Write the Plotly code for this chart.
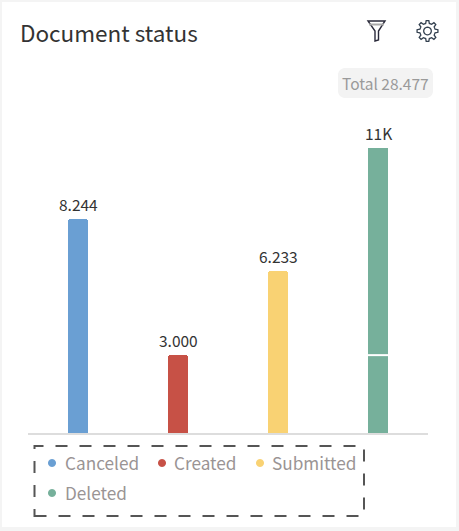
import math
import plotly.graph_objects as go

categories = ["Canceled", "Created", "Submitted", "Deleted"]
lower_values = [8244, 3000, 6233, 3000]
upper_values = [0, 0, 0, 8000]
value_labels = ["8.244", "3.000", "6.233", "11K"]
colors = ["#6a9fd3", "#c75146", "#f9d273", "#76b09b"]
title_text = "Document status"
total_text = "Total 28.477"

W, H = 459, 531
L, R, T, B = 28, 428, 100, 433
FONT = "Noto Sans CJK JP"

def fx(x):
    return (x - L) / (R - L)

def fy(y):
    return (B - y) / (B - T)

def path(points, close=True):
    s = "M" + " L".join(f"{fx(x):.5f},{fy(y):.5f}" for x, y in points)
    return s + (" Z" if close else "")

def rounded(x0, y0, x1, y1, r):
    pts = []
    for cx, cy, a0 in [(x1 - r, y0 + r, -90), (x1 - r, y1 - r, 0), (x0 + r, y1 - r, 90), (x0 + r, y0 + r, 180)]:
        for i in range(7):
            a = math.radians(a0 + 15 * i)
            pts.append((cx + r * math.cos(a), cy + r * math.sin(a)))
    return path(pts)

def gear(cx, cy, n=8, ro=10.5, ri=7.8):
    pts = []
    step = 360 / n
    for k in range(n):
        for off, rad in [(-0.30, ri), (-0.16, ro), (0.16, ro), (0.30, ri)]:
            a = math.radians((k + off) * step - 90)
            pts.append((cx + rad * math.cos(a), cy + rad * math.sin(a)))
    return path(pts)

def circle(cx, cy, r):
    return path([(cx + r * math.cos(math.radians(a)), cy + r * math.sin(math.radians(a))) for a in range(0, 360, 15)])

fig = go.Figure()
fig.add_bar(x=categories, y=lower_values, marker=dict(color=colors, line=dict(width=0)), showlegend=False, hoverinfo="skip")
fig.add_bar(x=categories, y=upper_values, marker=dict(color=colors, line=dict(width=0)), showlegend=False, hoverinfo="skip")
totals = [a + b for a, b in zip(lower_values, upper_values)]

shapes = [
    dict(type="rect", xref="paper", yref="paper", x0=fx(2), x1=fx(456), y0=fy(527), y1=fy(2),
         fillcolor="white", line=dict(width=0), layer="below"),
    dict(type="path", xref="paper", yref="paper", path=rounded(338, 68, 433, 98, 7),
         fillcolor="#f3f3f3", line=dict(width=0), layer="below"),
    dict(type="rect", xref="paper", yref="paper", x0=fx(34.5), x1=fx(364), y0=fy(516), y1=fy(446),
         fillcolor="rgba(0,0,0,0)", line=dict(color="#555555", width=2, dash="12px,12px")),
    dict(type="line", xref="x", yref="y", x0=2.9, x1=3.1, y0=lower_values[3], y1=lower_values[3],
         line=dict(color="white", width=2)),
    dict(type="path", xref="paper", yref="paper", path=gear(427.5, 31),
         fillcolor="rgba(0,0,0,0)", line=dict(color="#33404f", width=1.3)),
    dict(type="path", xref="paper", yref="paper", path=circle(427.5, 31, 3.8),
         fillcolor="rgba(0,0,0,0)", line=dict(color="#33404f", width=1.3)),
    dict(type="path", xref="paper", yref="paper",
         path=path([(368, 21), (385, 21), (378.5, 31), (378.5, 40), (375, 41), (375, 31)]),
         fillcolor="rgba(0,0,0,0)", line=dict(color="#2a2a3a", width=1.4)),
    dict(type="line", xref="paper", yref="paper", x0=fx(369), x1=fx(384), y0=fy(24.5), y1=fy(24.5),
         line=dict(color="#aaaaaa", width=2)),
]

annotations = [
    dict(xref="paper", yref="paper", x=fx(385.5), y=fy(83), xanchor="center", yanchor="middle", text=total_text,
         showarrow=False, font=dict(family=FONT, size=15.5, color="#9a9a9a")),
]

for cat, total, label in zip(categories, totals, value_labels):
    annotations.append(dict(x=cat, y=total, xref="x", yref="y", text=label, showarrow=False,
                            xanchor="center", yanchor="bottom", yshift=2,
                            font=dict(family=FONT, size=15.5, color="#333333")))

legend_pos = [(52, 463, 65), (162, 463, 174), (260, 463, 272), (52, 493, 65)]
for name, color, (mx, my, tx) in zip(categories, colors, legend_pos):
    shapes.append(dict(type="path", xref="paper", yref="paper", path=circle(mx, my, 4),
                       fillcolor=color, line=dict(width=0)))
    annotations.append(dict(xref="paper", yref="paper", x=fx(tx), y=fy(my), xanchor="left", yanchor="middle",
                            xshift=-2, yshift=1, text=name, showarrow=False,
                            font=dict(family=FONT, size=17.2, color="#9a9494")))

fig.update_layout(
    width=W, height=H,
    autosize=False,
    margin=dict(l=L, r=W - R, t=T, b=H - B, pad=0),
    paper_bgcolor="#f4f4f4",
    plot_bgcolor="rgba(0,0,0,0)",
    barmode="stack",
    bargap=0.8,
    barcornerradius=2,
    title=dict(text=title_text, x=20 / W, xanchor="left", y=1 - 34 / H, yanchor="middle",
               font=dict(family=FONT, size=22.5, color="#333333")),
    xaxis=dict(showticklabels=False, ticks="", showgrid=False, zeroline=False, fixedrange=True,
               showline=True, linecolor="#dddddd", linewidth=2, categoryorder="array", categoryarray=categories),
    yaxis=dict(range=[0, 12830], visible=False, fixedrange=True),
    shapes=shapes,
    annotations=annotations,
    showlegend=False,
)
fig.write_html("out.html", config={"displayModeBar": False},
               post_script="document.body.style.margin='0';document.documentElement.style.background='#f4f4f4';")
